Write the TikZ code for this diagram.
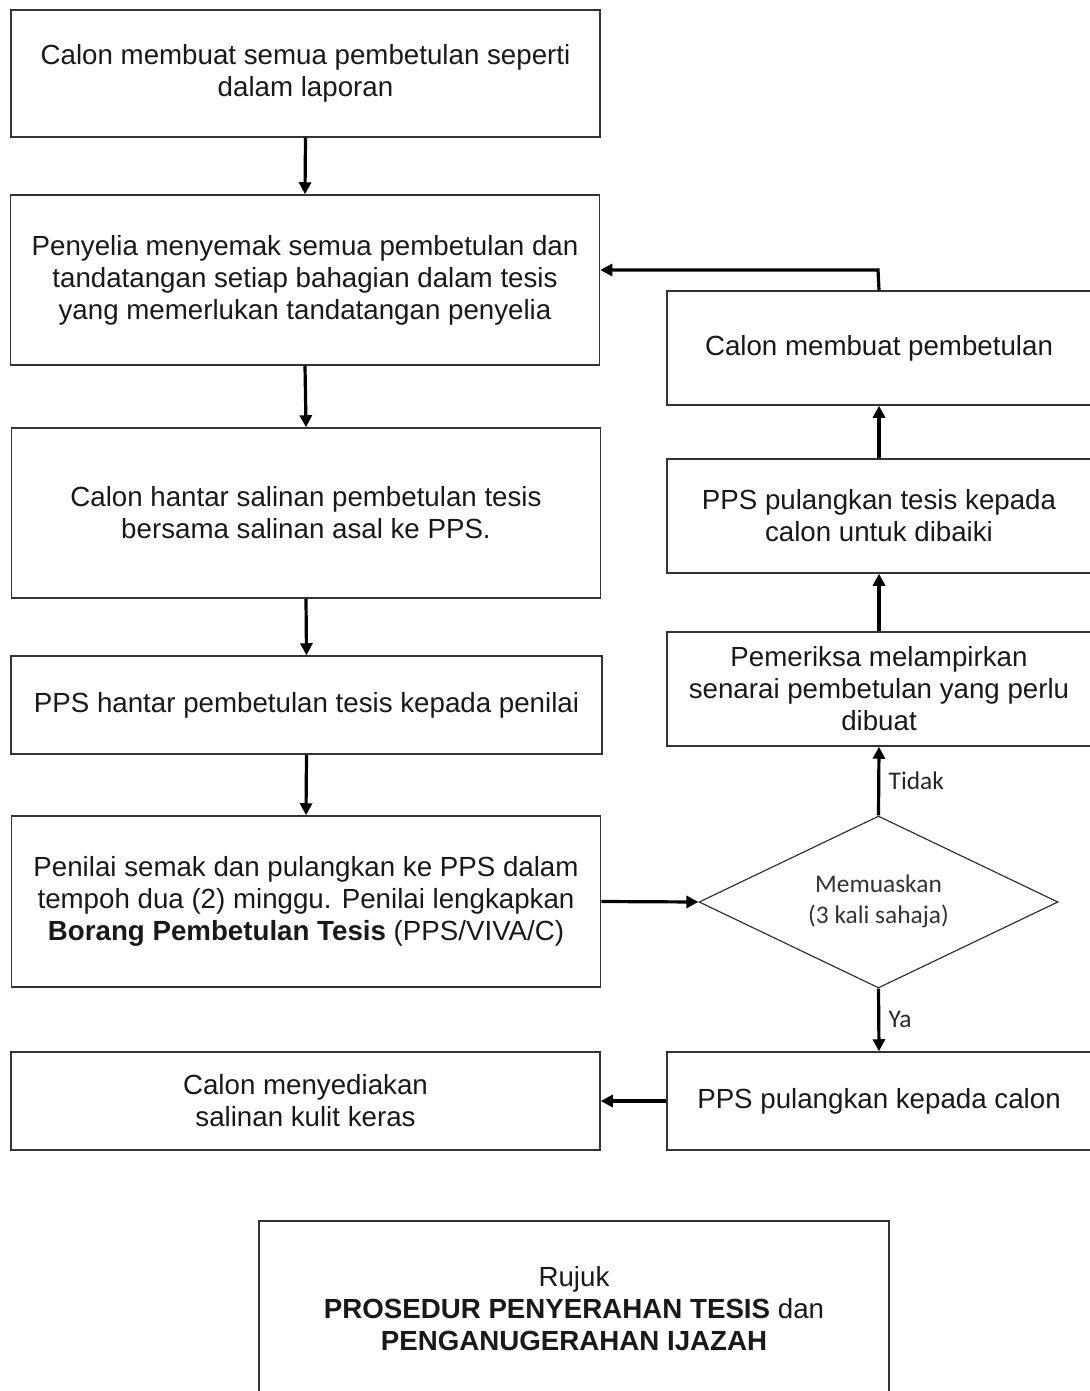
\documentclass[tikz,border=0pt]{standalone}
\usepackage{fontspec}
\setmainfont{Liberation Sans}
\newfontfamily\calibfont{Carlito}
\usetikzlibrary{arrows.meta,shapes.geometric}
\newcommand{\mainsize}{\fontsize{27.7}{32}\selectfont}
\newcommand{\decsize}{\calibfont\fontsize{25.4}{31}\selectfont}
\tikzset{
  leftbox/.style={draw=black!80,line width=1.5pt,align=center,
    minimum width=589pt,inner sep=0pt,font=\mainsize,text=black!90},
  rightbox/.style={draw=black!80,line width=1.5pt,align=center,
    minimum width=424pt,inner sep=0pt,font=\mainsize,text=black!90},
  decision/.style={diamond,draw=black!80,line width=1.2pt,align=center,
    aspect=2.09,minimum width=359pt,minimum height=172pt,inner sep=0pt,
    font=\decsize,text=black!80},
  arrow/.style={-{Triangle[length=12pt,width=12pt]},line width=3.2pt,draw=black},
  tag/.style={font=\decsize,text=black!85,xshift=5pt}
}

\begin{document}
\begin{tikzpicture}[x=1pt,y=-1pt]
  \useasboundingbox (0,0) rectangle (1089,1391);
  % left column
  \node[leftbox,minimum height=127pt] (c1) at (305.5,73.5)
    {Calon membuat semua pembetulan seperti\\dalam laporan};
  \node[leftbox,minimum height=170pt] (c2) at (305,280)
    {Penyelia menyemak semua pembetulan dan\\tandatangan setiap bahagian dalam tesis\\yang memerlukan tandatangan penyelia};
  \node[leftbox,minimum height=170pt] (c3) at (306,513)
    {Calon hantar salinan pembetulan tesis\\bersama salinan asal ke PPS.};
  \node[leftbox,minimum height=98pt,minimum width=591pt] (c4) at (306.5,705)
    {PPS hantar pembetulan tesis kepada penilai};
  \node[leftbox,minimum height=171pt] (c5) at (306,901.5)
    {Penilai semak dan pulangkan ke PPS dalam\\tempoh dua (2) minggu. Penilai lengkapkan\\\textbf{Borang Pembetulan Tesis} (PPS/VIVA/C)};
  \node[leftbox,minimum height=98pt] (c6) at (305.5,1101)
    {Calon menyediakan\\salinan kulit keras};
  % right column
  \node[rightbox,minimum height=114pt] (r1) at (879,348)
    {Calon membuat pembetulan};
  \node[rightbox,minimum height=114pt] (r2) at (879,516)
    {PPS pulangkan tesis kepada\\calon untuk dibaiki};
  \node[rightbox,minimum height=114pt] (r3) at (879,689)
    {Pemeriksa melampirkan\\senarai pembetulan yang perlu\\dibuat};
  \node[decision] (dec) at (878.5,902)
    {\raisebox{-4pt}{\begin{tabular}{@{}c@{}}Memuaskan\\(3 kali sahaja)\end{tabular}}};
  \node[rightbox,minimum height=98pt] (r4) at (879,1101)
    {PPS pulangkan kepada calon};
  % final reference
  \node[leftbox,minimum width=630pt,minimum height=176pt] (rujuk) at (574,1309)
    {Rujuk\\\textbf{PROSEDUR PENYERAHAN TESIS} dan\\\textbf{PENGANUGERAHAN IJAZAH}};

  \coordinate (bend) at (878,270);
  \draw[arrow] (c1.south) -- (c2.north);
  \draw[arrow] (c2.south) -- (c3.north);
  \draw[arrow] (c3.south) -- (c4.north);
  \draw[arrow] (c4.south) -- (c5.north);
  \draw[arrow] (c5.east) -- (dec.west);
  \draw[arrow] (dec.north) -- node[tag,right]{Tidak} (r3.south);
  \draw[arrow] (r3.north) -- (r2.south);
  \draw[arrow] (r2.north) -- (r1.south);
  \draw[arrow] (r1.north) -- (bend) -- (bend -| c2.east);
  \draw[arrow] (dec.south) -- node[tag,right]{Ya} (r4.north);
  \draw[arrow] (r4.west) -- (c6.east);
\end{tikzpicture}
\end{document}
